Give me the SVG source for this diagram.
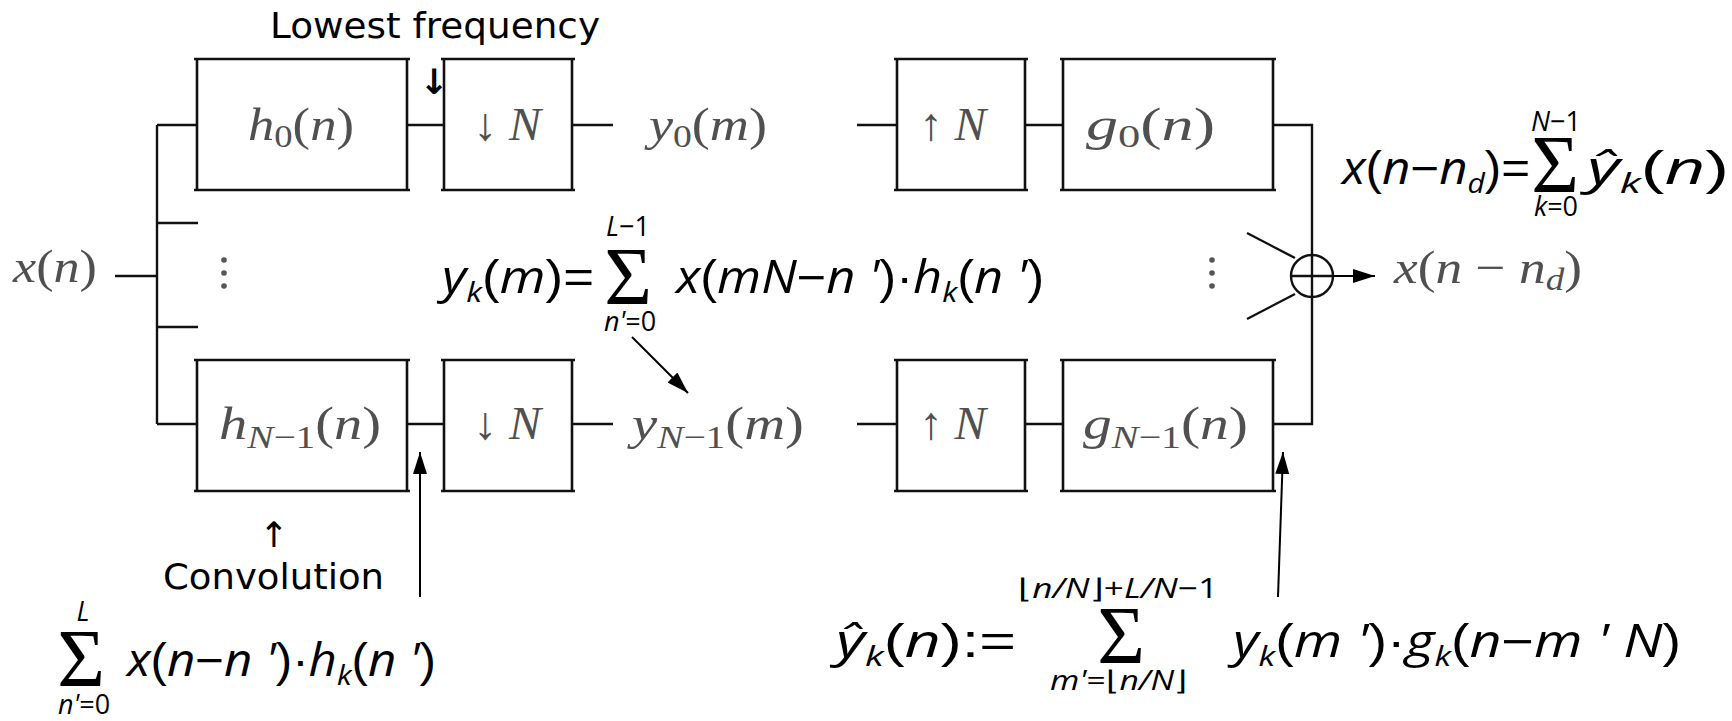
<svg xmlns="http://www.w3.org/2000/svg" width="1732" height="721" viewBox="0 0 1732 721">
<defs>
<style>
.box{fill:none;stroke:#111;stroke-width:2.6}
.ln{fill:none;stroke:#111;stroke-width:2.4}
.ar{fill:none;stroke:#000;stroke-width:2}
.tx{font-family:"Liberation Serif",serif;font-style:italic;fill:#505050;font-size:46px}
.up{font-style:normal}
.lbl{font-family:"DejaVu Sans",sans-serif;fill:#000;font-size:35px}
.m{font-family:"Open Sans",sans-serif;font-style:italic;fill:#000;font-size:46px}
.sub{font-size:28px}
.lim{font-family:"Open Sans",sans-serif;font-style:italic;fill:#000;font-size:27px}
.sig{font-family:"Liberation Serif",serif;fill:#000;font-size:82px}
.pr{font-family:"Liberation Sans",sans-serif;font-style:normal;font-weight:normal}
</style>
<marker id="ah" viewBox="0 0 22 14" refX="22" refY="7" markerWidth="22" markerHeight="14" markerUnits="userSpaceOnUse" orient="auto">
<path d="M0,0 L22,7 L0,14 z" fill="#000"/>
</marker>
</defs>

<g id="connectors">
<path class="ln" d="M115,276 H157 M157,125 V424 M157,125 H197 M157,223 H198 M157,327 H198 M157,424 H197"/>
<path class="ln" d="M407,125 H444 M572,125 H613 M857,125 H897 M1025,125 H1063 M1273,125 H1312 V424 H1273"/>
<path class="ln" d="M407,424 H444 M572,424 H613 M857,424 H897 M1025,424 H1063"/>
<path class="ln" d="M1247,233 L1295,258 M1247,319 L1295,294"/>
<path class="ar" d="M1333,276 H1375" marker-end="url(#ah)"/>
<path class="ar" d="M632,337 L688,393" marker-end="url(#ah)"/>
<path class="ar" d="M420,597 V452" marker-end="url(#ah)"/>
<path class="ar" d="M1278,597 L1283,452" marker-end="url(#ah)"/>
</g>

<g id="input">
<text class="tx" x="13" y="282" textLength="84" lengthAdjust="spacingAndGlyphs">x<tspan class="up">(</tspan>n<tspan class="up">)</tspan></text>
<g fill="#555"><circle cx="224" cy="260" r="2.8"/><circle cx="224" cy="273" r="2.8"/><circle cx="224" cy="286" r="2.8"/></g>
</g>

<g id="h0">
<path class="box" d="M194,59 H410 M194,190 H410 M197,59 V190 M407,59 V190"/>
<text class="tx" x="248" y="140" textLength="106" lengthAdjust="spacingAndGlyphs">h<tspan class="up" font-size="32" dy="7">0</tspan><tspan class="up" dy="-7">(</tspan>n<tspan class="up">)</tspan></text>
</g>
<g id="down0">
<path class="box" d="M441,59 H575 M441,190 H575 M444,59 V190 M572,59 V190"/>
<text class="tx" x="473" y="140" textLength="68" lengthAdjust="spacingAndGlyphs"><tspan class="up">↓</tspan> N</text>
</g>
<g id="y0">
<text class="tx" x="649" y="140" textLength="118" lengthAdjust="spacingAndGlyphs">y<tspan class="up" font-size="32" dy="7">0</tspan><tspan class="up" dy="-7">(</tspan>m<tspan class="up">)</tspan></text>
</g>
<g id="up0">
<path class="box" d="M894,59 H1028 M894,190 H1028 M897,59 V190 M1025,59 V190"/>
<text class="tx" x="919" y="140" textLength="67" lengthAdjust="spacingAndGlyphs"><tspan class="up">↑</tspan> N</text>
</g>
<g id="g0">
<path class="box" d="M1060,59 H1276 M1060,190 H1276 M1063,59 V190 M1273,59 V190"/>
<text class="tx" x="1086" y="140" textLength="129" lengthAdjust="spacingAndGlyphs">g<tspan class="up" font-size="32" dy="7">0</tspan><tspan class="up" dy="-7">(</tspan>n<tspan class="up">)</tspan></text>
</g>

<g id="hN">
<path class="box" d="M194,360 H410 M194,491 H410 M197,360 V491 M407,360 V491"/>
<text class="tx" x="219" y="439" textLength="162" lengthAdjust="spacingAndGlyphs">h<tspan font-size="32" dy="9">N</tspan><tspan class="up" font-size="32">−1</tspan><tspan class="up" dy="-9">(</tspan>n<tspan class="up">)</tspan></text>
</g>
<g id="downN">
<path class="box" d="M441,360 H575 M441,491 H575 M444,360 V491 M572,360 V491"/>
<text class="tx" x="473" y="439" textLength="68" lengthAdjust="spacingAndGlyphs"><tspan class="up">↓</tspan> N</text>
</g>
<g id="yN">
<text class="tx" x="632" y="439" textLength="172" lengthAdjust="spacingAndGlyphs">y<tspan font-size="32" dy="9">N</tspan><tspan class="up" font-size="32">−1</tspan><tspan class="up" dy="-9">(</tspan>m<tspan class="up">)</tspan></text>
</g>
<g id="upN">
<path class="box" d="M894,360 H1028 M894,491 H1028 M897,360 V491 M1025,360 V491"/>
<text class="tx" x="919" y="439" textLength="67" lengthAdjust="spacingAndGlyphs"><tspan class="up">↑</tspan> N</text>
</g>
<g id="gN">
<path class="box" d="M1060,360 H1276 M1060,491 H1276 M1063,360 V491 M1273,360 V491"/>
<text class="tx" x="1083" y="439" textLength="165" lengthAdjust="spacingAndGlyphs">g<tspan font-size="32" dy="9">N</tspan><tspan class="up" font-size="32">−1</tspan><tspan class="up" dy="-9">(</tspan>n<tspan class="up">)</tspan></text>
</g>

<g id="sum">
<circle cx="1312" cy="276" r="21" fill="none" stroke="#111" stroke-width="2.4"/>
<path class="ln" d="M1291,276 H1333"/>
<g fill="#555"><circle cx="1212" cy="260" r="2.8"/><circle cx="1212" cy="273" r="2.8"/><circle cx="1212" cy="286" r="2.8"/></g>
<text class="tx" x="1394" y="283" textLength="188" lengthAdjust="spacingAndGlyphs">x<tspan class="up">(</tspan>n <tspan class="up">−</tspan> n<tspan font-size="32" dy="7">d</tspan><tspan class="up" dy="-7">)</tspan></text>
</g>

<g id="label-lowest">
<text class="lbl" x="270" y="38" textLength="330" lengthAdjust="spacingAndGlyphs">Lowest frequency</text>
<text class="lbl" x="434" y="94" text-anchor="middle" font-size="46" font-weight="bold">↓</text>
</g>
<g id="label-conv">
<text class="lbl" x="274" y="547" text-anchor="middle" font-size="40">↑</text>
<text class="lbl" x="163" y="589" textLength="221" lengthAdjust="spacingAndGlyphs">Convolution</text>
</g>

<g id="eq-mid">
<text class="m" x="442" y="293" textLength="152" lengthAdjust="spacingAndGlyphs">y<tspan class="sub" dy="9">k</tspan><tspan class="pr" dy="-9">(</tspan>m<tspan class="pr">)</tspan><tspan class="pr">=</tspan></text>
<text class="sig" x="628" y="304" text-anchor="middle">Σ</text>
<text class="lim" x="628" y="236" text-anchor="middle">L<tspan style="font-style:normal">−1</tspan></text>
<text class="lim" x="630" y="331" text-anchor="middle">n'<tspan style="font-style:normal">=0</tspan></text>
<text class="m" x="676" y="293" textLength="368" lengthAdjust="spacingAndGlyphs">x<tspan class="pr">(</tspan>mN<tspan class="pr">−</tspan>n '<tspan class="pr">)·</tspan>h<tspan class="sub" dy="9">k</tspan><tspan class="pr" dy="-9">(</tspan>n '<tspan class="pr">)</tspan></text>
</g>

<g id="eq-conv">
<text class="sig" x="81" y="686" text-anchor="middle">Σ</text>
<text class="lim" x="83" y="621" text-anchor="middle">L</text>
<text class="lim" x="84" y="714" text-anchor="middle">n'<tspan style="font-style:normal">=0</tspan></text>
<text class="m" x="127" y="676" textLength="309" lengthAdjust="spacingAndGlyphs">x<tspan class="pr">(</tspan>n<tspan class="pr">−</tspan>n '<tspan class="pr">)·</tspan>h<tspan class="sub" dy="9">k</tspan><tspan class="pr" dy="-9">(</tspan>n '<tspan class="pr">)</tspan></text>
</g>

<g id="eq-synth">
<text class="m" x="836" y="657" textLength="180" lengthAdjust="spacingAndGlyphs">ŷ<tspan class="sub" dy="9">k</tspan><tspan class="pr" dy="-9">(</tspan>n<tspan class="pr">):=</tspan></text>
<text class="sig" x="1121" y="663" text-anchor="middle">Σ</text>
<text class="lim" x="1118" y="598" text-anchor="middle" textLength="200" lengthAdjust="spacingAndGlyphs"><tspan style="font-style:normal">⌊</tspan>n/N<tspan style="font-style:normal">⌋+</tspan>L/N<tspan style="font-style:normal">−1</tspan></text>
<text class="lim" x="1119" y="690" text-anchor="middle" textLength="138" lengthAdjust="spacingAndGlyphs">m'<tspan style="font-style:normal">=⌊</tspan>n/N<tspan style="font-style:normal">⌋</tspan></text>
<text class="m" x="1233" y="657" textLength="448" lengthAdjust="spacingAndGlyphs">y<tspan class="sub" dy="9">k</tspan><tspan class="pr" dy="-9">(</tspan>m '<tspan class="pr">)·</tspan>g<tspan class="sub" dy="9">k</tspan><tspan class="pr" dy="-9">(</tspan>n<tspan class="pr">−</tspan>m ' N<tspan class="pr">)</tspan></text>
</g>

<g id="eq-total">
<text class="m" x="1342" y="184" textLength="188" lengthAdjust="spacingAndGlyphs">x<tspan class="pr">(</tspan>n<tspan class="pr">−</tspan>n<tspan class="sub" dy="9">d</tspan><tspan class="pr" dy="-9">)=</tspan></text>
<text class="sig" x="1555" y="192" text-anchor="middle" font-size="58">Σ</text>
<text class="lim" x="1556" y="131" text-anchor="middle" font-size="25">N<tspan style="font-style:normal">−1</tspan></text>
<text class="lim" x="1556" y="216" text-anchor="middle" font-size="25">k<tspan style="font-style:normal">=0</tspan></text>
<text class="m" x="1587" y="184" textLength="142" lengthAdjust="spacingAndGlyphs">ŷ<tspan class="sub" dy="9">k</tspan><tspan class="pr" dy="-9">(</tspan>n<tspan class="pr">)</tspan></text>
</g>
</svg>
